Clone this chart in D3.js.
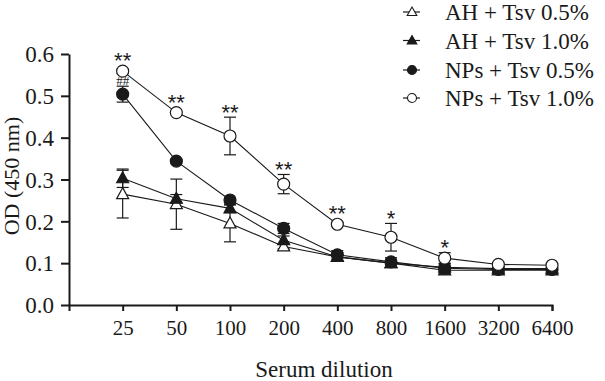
<!DOCTYPE html>
<html>
<head>
<meta charset="utf-8">
<script src="https://cdn.jsdelivr.net/npm/d3@7"></script>
<style>
  body { margin: 0; background: #fff; }
  text { font-family: "Liberation Serif", "Times New Roman", serif; fill: #1a1a1a; }
</style>
</head>
<body>
<svg width="605" height="381"></svg>
<script>
// dilutions on the x axis
var dilutions = ["25", "50", "100", "200", "400", "800", "1600", "3200", "6400"];

// OD values, one array per group
var ah05 = [0.265, 0.241, 0.195, 0.140, 0.115, 0.100, 0.090, 0.087, 0.087];
var ah05Err = [0.057, 0.060, 0.044, 0.006, 0.010, 0.008, 0.006, 0.004, 0.004];
var ah10 = [0.303, 0.254, 0.231, 0.155, 0.115, 0.100, 0.083, 0.083, 0.083];
var ah10Err = [0.022, 0.010, 0.010, 0.010, 0.010, 0.008, 0.006, 0.004, 0.004];
var np05 = [0.504, 0.344, 0.251, 0.183, 0.120, 0.103, 0.088, 0.085, 0.085];
var np05Err = [0.019, 0.004, 0.004, 0.012, 0.010, 0.010, 0.012, 0.006, 0.006];
var np10 = [0.559, 0.460, 0.404, 0.289, 0.193, 0.162, 0.112, 0.097, 0.095];
var np10Err = [0.005, 0.003, 0.045, 0.023, 0.003, 0.033, 0.013, 0.004, 0.004];

// significance marks above the NPs + Tsv 1.0% curve
var stars = ["**", "**", "**", "**", "**", "*", "*", "", ""];

var yTicks = [0, 0.1, 0.2, 0.3, 0.4, 0.5, 0.6];

var series = [
  { name: "AH + Tsv 0.5%", values: ah05, errs: ah05Err, shape: "tri", filled: false },
  { name: "AH + Tsv 1.0%", values: ah10, errs: ah10Err, shape: "tri", filled: true },
  { name: "NPs + Tsv 0.5%", values: np05, errs: np05Err, shape: "circle", filled: true },
  { name: "NPs + Tsv 1.0%", values: np10, errs: np10Err, shape: "circle", filled: false }
];

var svg = d3.select("svg");
var ink = "#1a1a1a";

// index scale, one empty slot before "25"
var x = d3.scaleLinear().domain([-1, dilutions.length - 1]).range([69, 552]);
var y = d3.scaleLinear().domain([0, 0.6]).range([305, 54]);

//axes
var xAxis = d3.axisBottom(x)
    .tickValues(d3.range(dilutions.length))
    .tickFormat(function (i) { return dilutions[i]; })
    .tickSize(6)
    .tickPadding(9);

var gx = svg.append("g")
    .attr("transform", "translate(0," + y(0) + ")")
    .call(xAxis);

var yAxis = d3.axisLeft(y)
    .tickValues(yTicks)
    .tickFormat(d3.format(".1f"))
    .tickSize(8)
    .tickSizeOuter(0)
    .tickPadding(7);

var gy = svg.append("g")
    .attr("transform", "translate(" + x(-1) + ",0)")
    .call(yAxis);

svg.selectAll(".domain, .tick line")
    .attr("stroke", ink)
    .attr("stroke-width", 2);

gx.selectAll("text")
    .style("font-size", "21px")
    .style("font-family", "Liberation Serif")
    .attr("fill", ink);

gy.selectAll("text")
    .style("font-size", "23px")
    .style("font-family", "Liberation Serif")
    .attr("fill", ink)
    .attr("dy", "0.34em");

// axis titles
svg.append("text")
    .attr("x", 324)
    .attr("y", 377)
    .attr("text-anchor", "middle")
    .style("font-size", "23px")
    .text("Serum dilution");

svg.append("text")
    .attr("transform", "translate(19,176) rotate(-90)")
    .attr("text-anchor", "middle")
    .style("font-size", "22px")
    .text("OD (450 nm)");

var line = d3.line()
    .x(function (d, i) { return x(i); })
    .y(function (d) { return y(d); });

//lines first
svg.append("g").selectAll("path")
    .data(series)
    .enter().append("path")
    .attr("d", function (d) { return line(d.values); })
    .attr("fill", "none")
    .attr("stroke", ink)
    .attr("stroke-width", 1.1);

//error bars
series.forEach(function (s) {
  var g = svg.append("g").attr("stroke", ink).attr("stroke-width", 1.2);
  s.values.forEach(function (v, i) {
    var e = s.errs[i];
    g.append("line")
      .attr("x1", x(i)).attr("x2", x(i))
      .attr("y1", y(v - e)).attr("y2", y(v + e));
    [v - e, v + e].forEach(function (w) {
      g.append("line")
        .attr("x1", x(i) - 6).attr("x2", x(i) + 6)
        .attr("y1", y(w)).attr("y2", y(w));
    });
  });
});

// the ## sits behind the 25 markers
svg.append("text")
    .attr("x", x(0))
    .attr("y", 85)
    .attr("text-anchor", "middle")
    .style("font-size", "13px")
    .attr("fill", "#666")
    .text("##");

var triPath = "M0,-6.5L6,4.5L-6,4.5Z";

function drawMarker(g, s, cx, cy) {
  var m;
  if (s.shape == "circle") {
    m = g.append("circle").attr("cx", cx).attr("cy", cy).attr("r", 6);
  } else {
    m = g.append("path").attr("d", triPath)
      .attr("transform", "translate(" + cx + "," + cy + ")");
  }
  m.attr("fill", s.filled ? ink : "#fff")
    .attr("stroke", ink)
    .attr("stroke-width", 1.2);
}

//markers
series.forEach(function (s) {
  var g = svg.append("g");
  s.values.forEach(function (v, i) {
    drawMarker(g, s, x(i), y(v));
  });
});

// stars above the top curve
var topSeries = series[3];
svg.append("g").selectAll("text")
    .data(stars)
    .enter().append("text")
    .attr("x", function (d, i) { return x(i); })
    .attr("y", function (d, i) {
      var t = Math.min(y(topSeries.values[i] + topSeries.errs[i]), y(topSeries.values[i]) - 6);
      return t + 3;
    })
    .attr("text-anchor", "middle")
    .style("font-family", "Liberation Sans")
    .style("font-size", "22px")
    .attr("fill", "#333")
    .text(function (d) { return d; });

// legend
var legend = svg.append("g").attr("transform", "translate(412,0)");
var rowY = [12, 40.5, 70, 98];
series.forEach(function (s, i) {
  var r = legend.append("g");
  r.append("line")
    .attr("x1", -9).attr("x2", 8)
    .attr("y1", rowY[i]).attr("y2", rowY[i])
    .attr("stroke", ink).attr("stroke-width", 1.2);
  var m;
  if (s.shape == "circle") {
    m = r.append("circle").attr("cx", 0).attr("cy", rowY[i]).attr("r", 4.5);
  } else {
    m = r.append("path").attr("d", "M0,-5L4.8,3.5L-4.8,3.5Z")
      .attr("transform", "translate(0," + rowY[i] + ")");
  }
  m.attr("fill", s.filled ? ink : "#fff").attr("stroke", ink).attr("stroke-width", 1.1);
  r.append("text")
    .attr("x", 33)
    .attr("y", rowY[i])
    .attr("dy", "0.35em")
    .style("font-size", "23px")
    .text(s.name);
});
</script>
</body>
</html>
